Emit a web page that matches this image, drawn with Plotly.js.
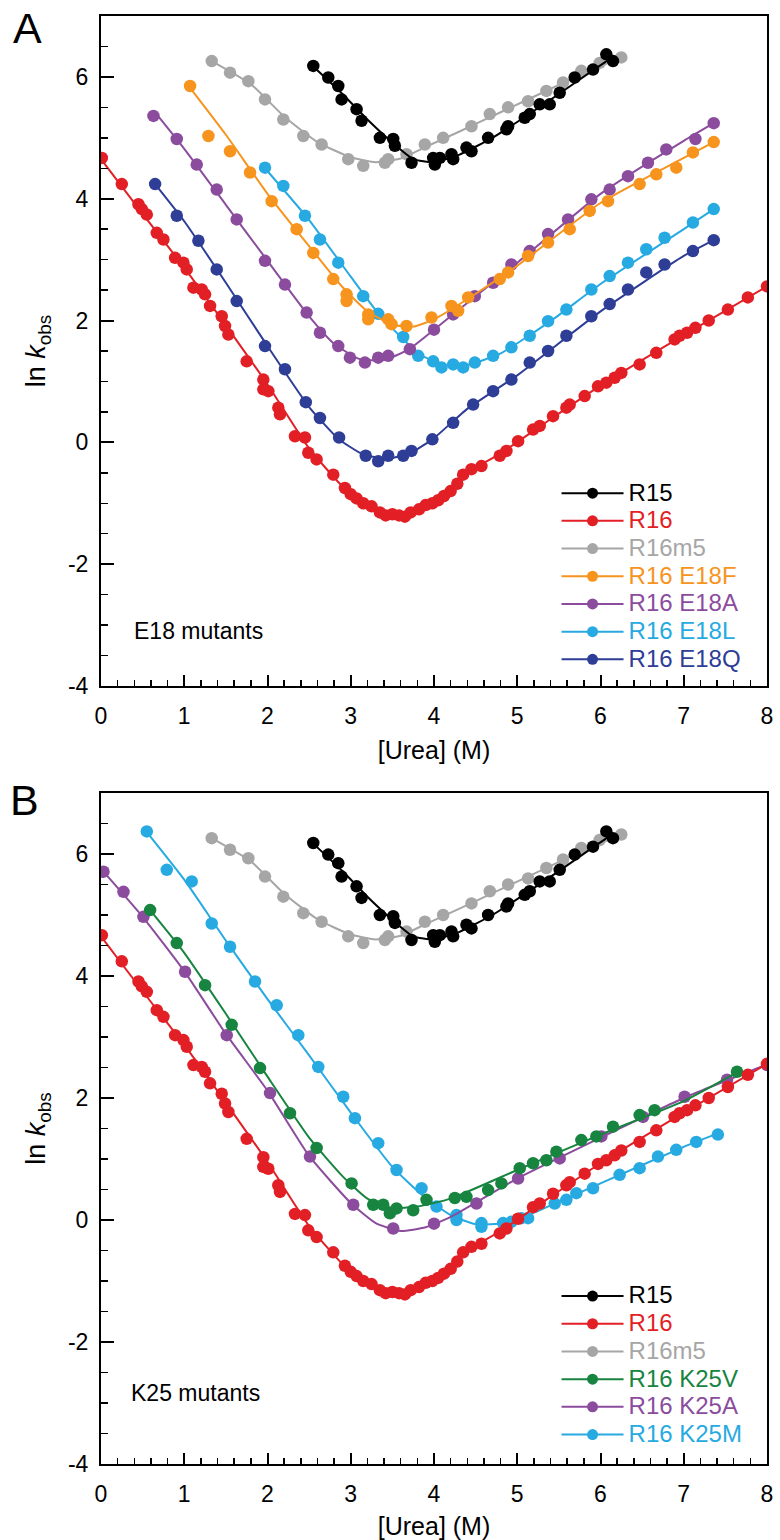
<!DOCTYPE html>
<html>
<head>
<meta charset="utf-8">
<script src="https://cdn.plot.ly/plotly-3.0.1.min.js"></script>
<style>html,body{margin:0;padding:0;background:#fff;}#chart{width:780px;height:1540px;}</style>
</head>
<body>
<div id="chart"></div>
<script>
// ---------- Data ----------
// R15 (shared by both panels)
const r15_x = [2.55,2.73,2.85,2.89,3.07,3.13,3.35,3.51,3.53,3.73,3.99,4.01,4.07,4.21,4.23,4.39,4.45,4.65,4.87,4.89,5.09,5.15,5.27,5.39,5.51,5.69,5.91,6.07,6.15];
const r15_y = [6.18,5.99,5.85,5.63,5.47,5.28,5.00,4.98,4.87,4.59,4.67,4.56,4.67,4.73,4.65,4.84,4.78,5.00,5.14,5.19,5.33,5.39,5.55,5.55,5.74,5.99,6.12,6.37,6.26];
const r15_fit_x = [2.55,2.9,3.2,3.5,3.75,4.0,4.3,4.7,5.1,5.5,5.9,6.15];
const r15_fit_y = [6.17,5.72,5.30,4.92,4.65,4.60,4.72,5.00,5.35,5.72,6.10,6.33];

// R16
const r16_x = [0.01,0.25,0.45,0.49,0.55,0.67,0.75,0.89,0.99,1.03,1.11,1.21,1.25,1.31,1.45,1.49,1.53,1.75,1.95,1.95,2.01,2.13,2.15,2.33,2.45,2.49,2.59,2.79,2.93,3.0,3.07,3.15,3.25,3.35,3.42,3.5,3.58,3.65,3.72,3.82,3.9,3.98,4.05,4.12,4.2,4.28,4.35,4.45,4.57,4.79,4.87,5.01,5.19,5.27,5.43,5.59,5.63,5.81,5.97,6.07,6.17,6.25,6.47,6.67,6.89,6.95,7.04,7.14,7.3,7.53,7.77,8.0];
const r16_y = [4.67,4.24,3.91,3.83,3.74,3.44,3.33,3.03,2.95,2.84,2.54,2.51,2.43,2.24,2.07,1.91,1.77,1.33,1.03,0.87,0.84,0.57,0.46,0.10,0.08,-0.17,-0.28,-0.53,-0.75,-0.85,-0.92,-1.0,-1.05,-1.15,-1.2,-1.18,-1.2,-1.22,-1.15,-1.1,-1.03,-1.0,-0.95,-0.88,-0.8,-0.68,-0.53,-0.44,-0.39,-0.22,-0.14,0.02,0.21,0.27,0.43,0.57,0.62,0.76,0.92,0.98,1.06,1.14,1.28,1.47,1.69,1.75,1.80,1.88,2.0,2.18,2.38,2.56];
const r16_fit_x = [0,0.5,1.0,1.5,2.0,2.5,2.9,3.2,3.5,3.8,4.1,4.4,4.8,5.4,6,7,8];
const r16_fit_y = [4.65,3.75,2.87,1.92,0.95,-0.1,-0.72,-1.02,-1.17,-1.12,-0.88,-0.5,-0.18,0.38,0.93,1.76,2.56];

// R16m5
const r16m5_x = [1.33,1.55,1.77,1.97,2.19,2.43,2.65,2.97,3.15,3.41,3.45,3.67,3.89,4.11,4.45,4.67,4.89,5.13,5.35,5.55,5.77,5.99,6.25];
const r16m5_y = [6.26,6.07,5.93,5.63,5.30,5.03,4.89,4.65,4.54,4.59,4.65,4.73,4.89,5.00,5.19,5.39,5.50,5.60,5.77,5.91,6.10,6.23,6.32];
const r16m5_fit_x = [1.33,1.8,2.2,2.6,3.0,3.3,3.6,3.9,4.3,4.8,5.3,5.8,6.27];
const r16m5_fit_y = [6.26,5.88,5.35,4.93,4.68,4.60,4.66,4.85,5.10,5.42,5.74,6.06,6.33];

// Panel A: E18 mutants
const e18f_x = [1.07,1.29,1.55,1.79,2.05,2.35,2.55,2.79,2.95,2.95,3.21,3.21,3.45,3.49,3.67,3.97,4.21,4.29,4.41,4.79,4.89,5.13,5.37,5.63,5.87,6.09,6.47,6.67,6.91,7.11,7.36];
const e18f_y = [5.85,5.03,4.78,4.43,3.96,3.50,3.11,2.68,2.43,2.32,2.10,2.02,2.02,1.94,1.91,2.05,2.24,2.16,2.38,2.68,2.79,3.06,3.28,3.50,3.80,3.96,4.24,4.40,4.51,4.76,4.93];
const e18f_fit_x = [1.07,1.5,2.0,2.5,2.9,3.2,3.5,3.75,4.0,4.4,5.0,6.0,7.0,7.36];
const e18f_fit_y = [5.82,5.05,4.08,3.22,2.55,2.15,1.93,1.90,2.02,2.35,2.90,3.93,4.67,4.93];

const e18a_x = [0.63,0.91,1.15,1.39,1.63,1.97,2.21,2.47,2.63,2.85,2.99,3.17,3.33,3.45,3.71,4.0,4.23,4.49,4.71,4.93,5.15,5.37,5.61,5.89,6.11,6.33,6.57,6.79,7.14,7.36];
const e18a_y = [5.36,4.98,4.56,4.15,3.66,2.98,2.59,2.13,1.80,1.58,1.39,1.31,1.39,1.42,1.53,1.85,2.10,2.40,2.62,2.92,3.14,3.42,3.66,3.99,4.15,4.37,4.59,4.81,4.98,5.24];
const e18a_fit_x = [0.63,1.0,1.5,2.0,2.5,2.8,3.1,3.4,3.7,4.0,4.5,5,6,7,7.36];
const e18a_fit_y = [5.45,4.82,3.90,2.98,2.07,1.62,1.37,1.35,1.53,1.85,2.40,2.95,4.08,4.95,5.24];

const e18l_x = [1.97,2.19,2.45,2.63,2.85,3.15,3.33,3.63,3.81,3.99,4.09,4.23,4.35,4.49,4.71,4.93,5.15,5.37,5.59,5.89,6.11,6.33,6.55,6.77,7.11,7.36];
const e18l_y = [4.51,4.21,3.72,3.33,2.95,2.40,2.11,1.73,1.42,1.33,1.23,1.28,1.23,1.31,1.42,1.56,1.75,1.99,2.18,2.51,2.73,2.95,3.17,3.36,3.61,3.83];
const e18l_fit_x = [1.97,2.5,3.0,3.3,3.6,3.85,4.1,4.4,4.8,5.4,6,7,7.36];
const e18l_fit_y = [4.50,3.65,2.72,2.17,1.73,1.43,1.28,1.27,1.46,1.99,2.60,3.50,3.83];

const e18q_x = [0.65,0.91,1.17,1.39,1.63,1.97,2.21,2.46,2.63,2.86,3.18,3.33,3.45,3.63,3.73,3.98,4.23,4.47,4.71,4.93,5.15,5.37,5.59,5.89,6.11,6.33,6.55,6.77,7.11,7.36];
const e18q_y = [4.24,3.72,3.31,2.84,2.32,1.58,1.20,0.66,0.40,0.08,-0.22,-0.31,-0.22,-0.22,-0.14,0.05,0.32,0.62,0.84,1.03,1.31,1.50,1.75,2.07,2.27,2.51,2.79,2.92,3.14,3.32];
const e18q_fit_x = [0.65,1.0,1.5,2.0,2.5,2.85,3.15,3.45,3.75,4.0,4.4,5,6,7,7.36];
const e18q_fit_y = [4.24,3.63,2.62,1.58,0.58,0.06,-0.20,-0.27,-0.15,0.07,0.55,1.10,2.15,3.06,3.32];

// Panel B: K25 mutants
const k25v_x = [0.59,0.91,1.25,1.57,1.91,2.27,2.59,3.01,3.27,3.39,3.47,3.55,3.75,3.91,4.25,4.39,4.65,4.81,5.03,5.19,5.35,5.47,5.77,5.95,6.15,6.47,6.65,7.64];
const k25v_y = [5.08,4.54,3.85,3.20,2.49,1.75,1.18,0.60,0.25,0.25,0.11,0.19,0.16,0.33,0.36,0.38,0.49,0.60,0.85,0.93,0.98,1.12,1.31,1.37,1.53,1.72,1.80,2.43];
const k25v_fit_x = [0.59,1.0,1.5,2.0,2.5,2.9,3.2,3.5,3.8,4.2,5,6,7,7.64];
const k25v_fit_y = [5.08,4.38,3.38,2.35,1.35,0.72,0.35,0.20,0.22,0.35,0.82,1.40,1.95,2.42];

const k25a_x = [0.03,0.27,0.51,1.01,1.51,2.03,2.51,3.03,3.51,4.0,4.51,5.01,5.51,6.01,6.51,7.01,7.52,8.0];
const k25a_y = [5.71,5.38,4.97,4.07,3.03,2.08,1.04,0.25,-0.14,-0.06,0.27,0.68,1.01,1.37,1.69,2.02,2.30,2.54];
const k25a_fit_x = [0.03,0.5,1.0,1.5,2.0,2.5,3.0,3.3,3.6,3.9,4.2,5,6,7,8];
const k25a_fit_y = [5.71,4.97,4.08,3.05,2.12,1.05,0.28,-0.05,-0.18,-0.12,0.05,0.68,1.35,2.00,2.55];

const k25m_x = [0.55,0.79,1.09,1.33,1.55,1.85,2.11,2.37,2.61,2.91,3.05,3.33,3.55,3.85,4.03,4.27,4.27,4.57,4.57,4.83,4.93,5.05,5.13,5.45,5.59,5.71,5.91,6.23,6.47,6.69,6.91,7.15,7.41];
const k25m_y = [6.37,5.74,5.55,4.86,4.48,3.91,3.52,3.03,2.51,2.02,1.67,1.26,0.82,0.52,0.22,0.08,0.0,-0.05,-0.11,-0.05,-0.03,0.03,0.03,0.27,0.33,0.44,0.52,0.74,0.85,1.04,1.15,1.28,1.40];
const k25m_fit_x = [0.55,1.0,1.5,2.0,2.5,3.0,3.5,3.85,4.2,4.5,4.85,5.2,6,7,7.41];
const k25m_fit_y = [6.36,5.58,4.58,3.62,2.70,1.76,0.87,0.42,0.08,-0.07,-0.05,0.12,0.60,1.20,1.42];

// Tick labels and titles
const yTickVals = [-4, -2, 0, 2, 4, 6];
const yTickText = ['-4', '-2', '0', '2', '4', '6'];
const xTickVals = [0, 1, 2, 3, 4, 5, 6, 7, 8];
const xTickText = ['0', '1', '2', '3', '4', '5', '6', '7', '8'];
const xTitle = '[Urea] (M)';
const yTitle = 'ln <i>k</i><sub>obs</sub>';

// ---------- Styling ----------
const FONT = 'Liberation Sans, Arial, Helvetica, sans-serif';
const C = {
  r15: '#000000', r16: '#E31F26', r16m5: '#A6A6A6',
  e18f: '#F7941E', e18a: '#8B4C9E', e18l: '#27AAE1', e18q: '#2E3D96',
  k25v: '#17843F', k25a: '#8B4C9E', k25m: '#27AAE1'
};

const traces = [];
function addSeries(name, color, xs, ys, fx, fy, xa, ya, leg) {
  traces.push({x: fx, y: fy, mode: 'lines', line: {color: color, width: 2, shape: 'spline', smoothing: 0.5},
    xaxis: xa, yaxis: ya, showlegend: false, hoverinfo: 'skip'});
  traces.push({x: xs, y: ys, mode: 'markers', marker: {color: color, size: 12.5, line: {width: 0}},
    xaxis: xa, yaxis: ya, showlegend: false});
  traces.push({x: [null], y: [null], mode: 'lines+markers',
    name: '<span style="color:' + color + ';font-size:24px">' + name + '</span>',
    line: {color: color, width: 2}, marker: {color: color, size: 11},
    xaxis: xa, yaxis: ya, legend: leg, showlegend: true});
}

// Panel A
addSeries('R16 E18Q', C.e18q, e18q_x, e18q_y, e18q_fit_x, e18q_fit_y, 'x', 'y', 'legend');
addSeries('R16 E18L', C.e18l, e18l_x, e18l_y, e18l_fit_x, e18l_fit_y, 'x', 'y', 'legend');
addSeries('R16 E18A', C.e18a, e18a_x, e18a_y, e18a_fit_x, e18a_fit_y, 'x', 'y', 'legend');
addSeries('R16 E18F', C.e18f, e18f_x, e18f_y, e18f_fit_x, e18f_fit_y, 'x', 'y', 'legend');
addSeries('R16m5', C.r16m5, r16m5_x, r16m5_y, r16m5_fit_x, r16m5_fit_y, 'x', 'y', 'legend');
addSeries('R16', C.r16, r16_x, r16_y, r16_fit_x, r16_fit_y, 'x', 'y', 'legend');
addSeries('R15', C.r15, r15_x, r15_y, r15_fit_x, r15_fit_y, 'x', 'y', 'legend');
// Panel B
addSeries('R16 K25M', C.k25m, k25m_x, k25m_y, k25m_fit_x, k25m_fit_y, 'x2', 'y2', 'legend2');
addSeries('R16 K25A', C.k25a, k25a_x, k25a_y, k25a_fit_x, k25a_fit_y, 'x2', 'y2', 'legend2');
addSeries('R16 K25V', C.k25v, k25v_x, k25v_y, k25v_fit_x, k25v_fit_y, 'x2', 'y2', 'legend2');
addSeries('R16m5', C.r16m5, r16m5_x, r16m5_y, r16m5_fit_x, r16m5_fit_y, 'x2', 'y2', 'legend2');
addSeries('R16', C.r16, r16_x, r16_y, r16_fit_x, r16_fit_y, 'x2', 'y2', 'legend2');
addSeries('R15', C.r15, r15_x, r15_y, r15_fit_x, r15_fit_y, 'x2', 'y2', 'legend2');

function xAxis(anchor) {
  return {
    anchor: anchor, range: [0, 8], tickmode: 'array', tickvals: xTickVals, ticktext: xTickText,
    showline: true, mirror: true, linecolor: '#000', linewidth: 2,
    ticks: 'inside', ticklen: 11, tickwidth: 2, tickcolor: '#000',
    minor: {dtick: 0.2, tick0: 0, ticks: 'inside', ticklen: 6, tickwidth: 1.5, tickcolor: '#000', showgrid: false},
    showgrid: false, zeroline: false,
    tickfont: {family: FONT, size: 23, color: '#000'},
    ticklabelstandoff: 8,
    title: {text: xTitle, font: {family: FONT, size: 25, color: '#000'}, standoff: 14}
  };
}
function yAxis(anchor, domain) {
  return {
    anchor: anchor, domain: domain, range: [-4, 7], tickmode: 'array', tickvals: yTickVals, ticktext: yTickText,
    showline: true, mirror: true, linecolor: '#000', linewidth: 2,
    ticks: 'inside', ticklen: 13, tickwidth: 2, tickcolor: '#000',
    minor: {dtick: 0.5, tick0: 0, ticks: 'inside', ticklen: 7, tickwidth: 1.5, tickcolor: '#000', showgrid: false},
    showgrid: false, zeroline: false,
    tickfont: {family: FONT, size: 23, color: '#000'},
    ticklabelstandoff: 6,
    title: {text: yTitle, font: {family: FONT, size: 27, color: '#000'}, standoff: 14}
  };
}

const legendStyle = {
  xref: 'paper', yref: 'paper', xanchor: 'left', yanchor: 'top',
  bgcolor: 'rgba(0,0,0,0)', borderwidth: 0,
  font: {family: FONT, size: 19, color: '#000'},
  itemwidth: 62, tracegroupgap: 0, traceorder: 'reversed'
};

const layout = {
  width: 780, height: 1540,
  margin: {l: 101, r: 13, t: 16, b: 76},
  paper_bgcolor: '#fff', plot_bgcolor: '#fff',
  showlegend: true,
  xaxis: Object.assign(xAxis('y'), {domain: [0, 1]}),
  yaxis: yAxis('x', [0.5373, 1]),
  xaxis2: Object.assign(xAxis('y2'), {domain: [0, 1]}),
  yaxis2: yAxis('x2', [0, 0.4634]),
  legend: Object.assign({}, legendStyle, {x: 0.684, y: 0.6835}),
  legend2: Object.assign({}, legendStyle, {x: 0.684, y: 0.129}),
  annotations: [
    {text: 'A', xref: 'paper', yref: 'paper', x: -0.11, y: 0.9917, xanchor: 'center', yanchor: 'middle',
     showarrow: false, font: {family: FONT, size: 43, color: '#000'}},
    {text: 'B', xref: 'paper', yref: 'paper', x: -0.115, y: 0.4584, xanchor: 'center', yanchor: 'middle',
     showarrow: false, font: {family: FONT, size: 43, color: '#000'}},
    {text: 'E18 mutants', xref: 'x', yref: 'y', x: 1.17, y: -3.1, xanchor: 'center', yanchor: 'middle',
     showarrow: false, font: {family: FONT, size: 23, color: '#000'}},
    {text: 'K25 mutants', xref: 'x2', yref: 'y2', x: 1.13, y: -2.84, xanchor: 'center', yanchor: 'middle',
     showarrow: false, font: {family: FONT, size: 23, color: '#000'}}
  ]
};

Plotly.newPlot('chart', traces, layout, {staticPlot: true, displayModeBar: false});
</script>
</body>
</html>
